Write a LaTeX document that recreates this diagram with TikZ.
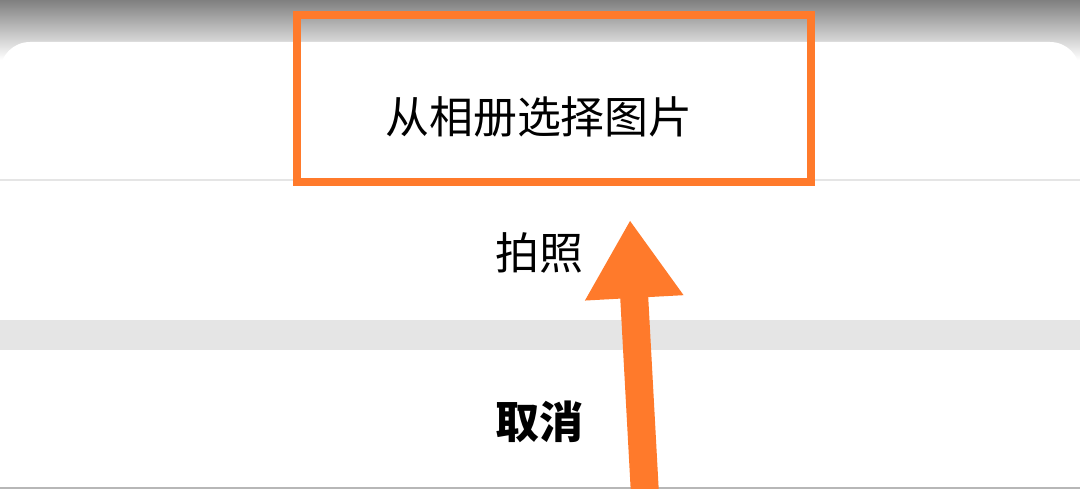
\documentclass[tikz,border=0pt]{standalone}
\usepackage{fontspec}
\newfontfamily\cjk{Noto Sans CJK SC}
\usetikzlibrary{arrows.meta}
\definecolor{hint}{HTML}{FF7A2B}
\definecolor{shade}{HTML}{7F7F7F}
\definecolor{band}{HTML}{E5E5E5}
\tikzset{
    menuitem/.style={font=\cjk\fontsize{25}{30}\selectfont, inner sep=0pt},
}
\begin{document}
\begin{tikzpicture}[x=0.02cm, y=-0.02cm]
    \useasboundingbox (0, 0) rectangle (1080, 489);
    \fill[shade] (0, 0) rectangle (1080, 60);
    \fill[white, rounded corners=0.6cm] (0, 42) rectangle (1080, 540);
    \fill[band] (0, 320) rectangle (1080, 350);
    \draw[band, line width=0.03cm] (0, 180) -- (1080, 180);
    \draw[band!80!black, line width=0.03cm] (0, 488) -- (1080, 488);

    \node[menuitem] (album) at (539, 117) {从相册选择图片};
    \node[menuitem] (photo) at (539, 253) {拍照};
    \node[menuitem, font=\cjk\bfseries\fontsize{25}{30}\selectfont] (cancel) at (539, 422) {取消};

    \draw[hint, line width=0.16cm] (297, 15) rectangle (811, 182);

    \coordinate (tail) at (645, 495);
    \coordinate (tip) at (630, 220);
    \draw[hint, line width=0.56cm, -{Triangle[length=1.56cm, width=1.86cm]}] (tail) -- (tip);
\end{tikzpicture}
\end{document}
